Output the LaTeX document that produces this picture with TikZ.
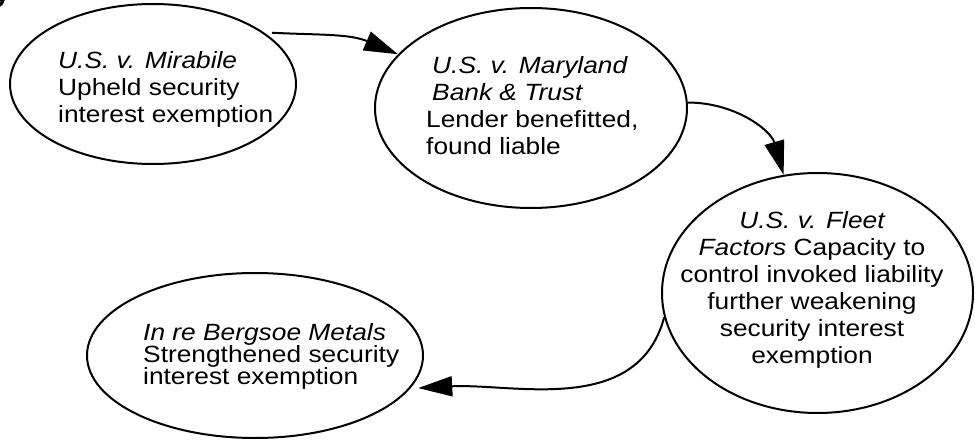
\documentclass[tikz,border=0pt]{standalone}
\usepackage{fontspec}
\setmainfont{Liberation Sans}[FakeStretch=1.12]
\usetikzlibrary{shapes.geometric,arrows.meta}
\begin{document}
\begin{tikzpicture}
        [x=1pt, y=1pt,
        case/.style = {ellipse, draw, line width=2pt, inner sep=0pt},
        txt/.style = {inner sep=0pt, align=left,
                    font=\fontsize{23.5}{27}\selectfont},
        link/.style = {line width=2pt, -{Triangle[length=34pt,width=20pt]}}]
        \useasboundingbox (0,0) rectangle (975,-441);
        \node[anchor=base east, font=\fontsize{23.5}{27}\selectfont\bfseries] (frag) at (13,-3) {y};
        \node[case, minimum width=286pt, minimum height=160pt] (mir) at (153,-84) {};
        \node[case, minimum width=312pt, minimum height=200pt] (mary) at (531,-108) {};
        \node[case, minimum width=311pt, minimum height=240pt] (fleet) at (817.5,-293) {};
        \node[case, minimum width=336pt, minimum height=165pt] (berg) at (255,-355.5) {};
        \node[txt, anchor=west] (mirtxt) at (58,-89)
            {\itshape U.S. v. Mirabile\\Upheld security\\interest exemption};
        \node[txt, anchor=west] (marytxt) at (426,-106)
            {\hspace*{6pt}\itshape U.S. v. Maryland\\\hspace*{6pt}\itshape Bank \& Trust\\Lender benefitted,\\found liable};
        \node[txt, align=center] (fleettxt) at (812,-290)
            {\itshape U.S. v. Fleet\\\textit{Factors} Capacity to\\control invoked liability\\further weakening\\security interest\\exemption};
        \node[txt, anchor=west, font=\fontsize{23.5}{22}\selectfont] (bergtxt) at (143,-356)
            {\itshape In re Bergsoe Metals\\Strengthened security\\interest exemption};
        \draw[link, shorten <=8pt] (mir.25) to[out=-3, in=157] (mary.158);
        \draw[link] (mary.2) to[out=0, in=106] (fleet.106);
        \draw[link, shorten >=8pt] (fleet.189) to[out=-105, in=3] (berg.-12);
\end{tikzpicture}
\end{document}
